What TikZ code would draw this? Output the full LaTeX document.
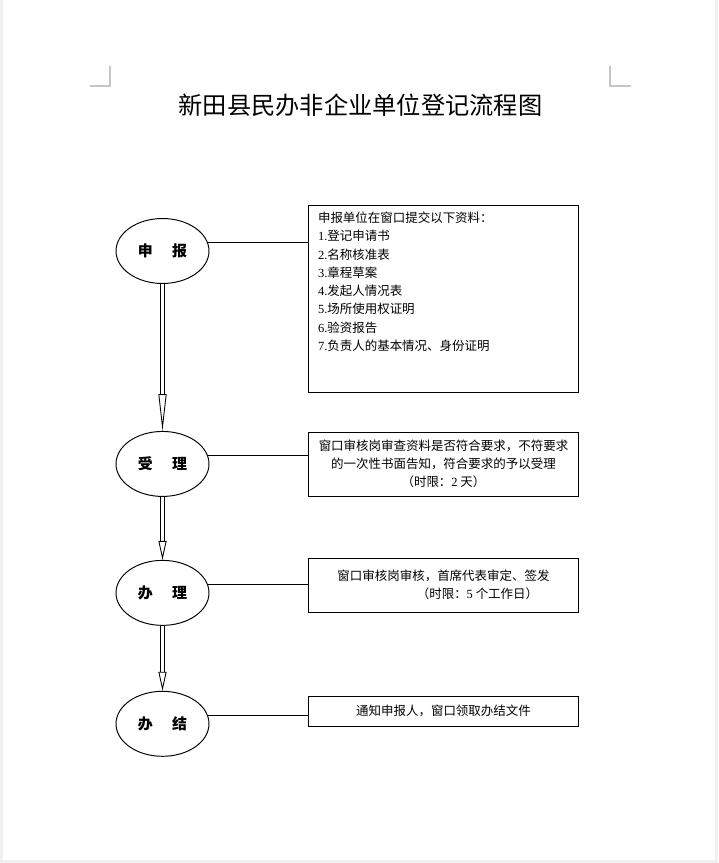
\documentclass[tikz,border=0pt]{standalone}
\usepackage{fontspec}
\newfontfamily\cjk{Noto Sans CJK SC}
\newfontfamily\lat{Liberation Serif}
\usetikzlibrary{arrows.meta, positioning, shapes.geometric}

\begin{document}
\begin{tikzpicture}[
    x=0.02cm, y=-0.02cm,
    every node/.style={font=\cjk},
    stage/.style={ellipse, draw, line width=0.55pt, minimum width=1.86cm, minimum height=1.3cm, inner sep=0pt, font=\cjk\bfseries\fontsize{8.5}{10}\selectfont},
    note/.style={rectangle, draw, line width=0.55pt, minimum width=5.42cm, minimum height=#1, align=center, inner sep=0pt, font=\cjk\fontsize{7.1}{10.4}\selectfont},
    flow/.style={double, double distance=1.7pt, line width=0.5pt, -{Triangle[open, length=#1, width=4.6pt]}},
    link/.style={line width=0.55pt},
    cropmark/.style={gray!45, line width=0.6pt}
]

% Page
\fill[gray!12] (0,0) rectangle (718,863);
\fill[white] (3,0) rectangle (715,860);
\useasboundingbox (0,0) rectangle (718,863);
\draw[cropmark] (110,66) -- (110,86) -- (90,86);
\draw[cropmark] (610,66) -- (610,86) -- (631,86);

% Title
\node[font=\cjk\fontsize{13.8}{16}\selectfont] (title) at (360.5,105) {新田县民办非企业单位登记流程图};

% Stages
\node[stage] (sb) at (162.5,251) {申\hspace{1.3em}报};
\node[stage, below=2.94cm of sb] (sl) {受\hspace{1.3em}理};
\node[stage, below=1.26cm of sl] (bl) {办\hspace{1.3em}理};
\node[stage, below=1.3cm of bl] (bj) {办\hspace{1.3em}结};

% Notes
\node[note=3.74cm] (b1) at (443.5,298.5) {\parbox[t][3.46cm][t]{5.02cm}{申报单位在窗口提交以下资料：\\
{\lat 1.}登记申请书\\
{\lat 2.}名称核准表\\
{\lat 3.}章程草案\\
{\lat 4.}发起人情况表\\
{\lat 5.}场所使用权证明\\
{\lat 6.}验资报告\\
{\lat 7.}负责人的基本情况、身份证明}};
\node[note=1.28cm] (b2) at (443.5,464) {窗口审核岗审查资料是否符合要求，不符要求\\的一次性书面告知，符合要求的予以受理\\（时限：{\lat 2} 天）};
\node[note=1.08cm] (b3) at (443.5,585) {窗口审核岗审核，首席代表审定、签发\\\hspace*{1.36cm}（时限：{\lat 5} 个工作日）};
\node[note=0.6cm] (b4) at (443.5,711) {通知申报人，窗口领取办结文件};

% Links to notes
\draw[link] (sb.10) -- (sb.10 -| b1.west);
\draw[link] (sl.10) -- (sl.10 -| b2.west);
\draw[link] (bl.10) -- (bl.10 -| b3.west);
\draw[link] (bj.10) -- (bj.10 -| b4.west);

% Flow
\draw[flow=21pt] (sb) -- (sl);
\draw[flow=10.8pt] (sl) -- (bl);
\draw[flow=10.8pt] (bl) -- (bj);

\end{tikzpicture}
\end{document}
